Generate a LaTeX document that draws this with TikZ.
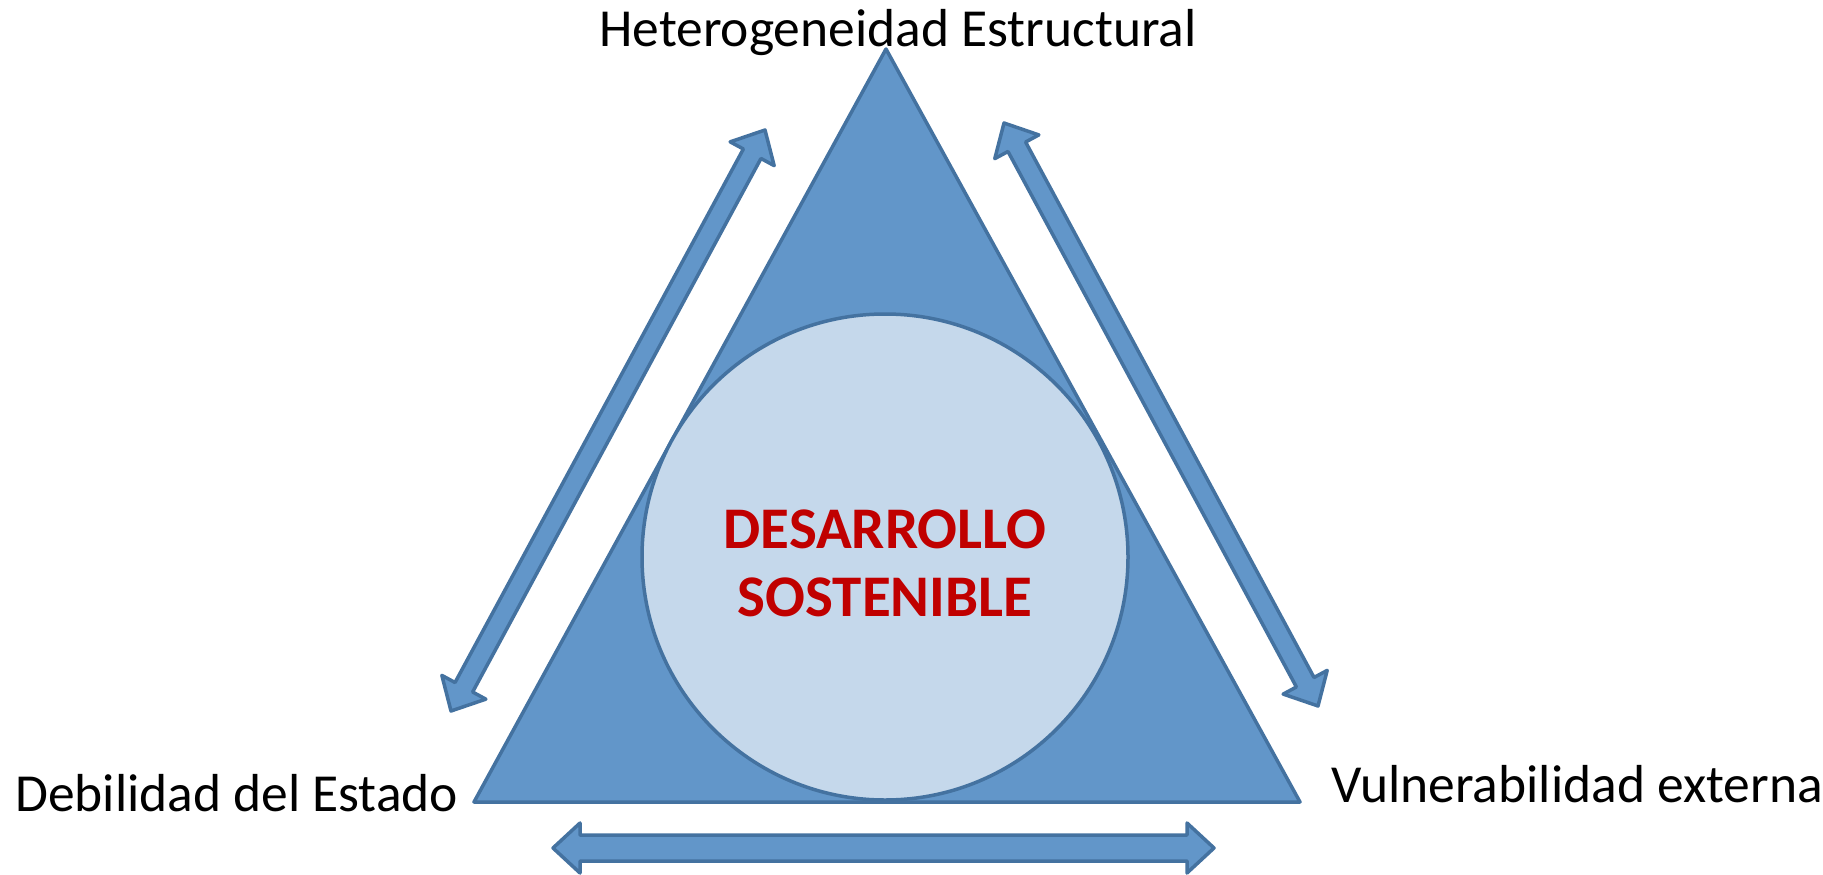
\documentclass[tikz,border=0pt]{standalone}
\usepackage{fontspec}
\setmainfont{Carlito}
\usepackage{tikz}
\usetikzlibrary{calc}
\definecolor{EdgeBlue}{RGB}{68,114,160}
\definecolor{FillBlue}{RGB}{98,150,201}
\definecolor{LightBlue}{RGB}{197,216,235}
\definecolor{DarkRed}{RGB}{192,0,0}

\tikzset{
  shapeline/.style={draw=EdgeBlue, line width=3.5pt, line join=round},
  label/.style={inner sep=0pt, font=\fontsize{53.5}{64}\selectfont, text=black},
  centretext/.style={inner sep=0pt, align=center, text=DarkRed,
    font=\fontsize{59}{68}\selectfont\bfseries},
}

% block arrow with a head at both ends: tip, tip, half shaft width
\newcommand{\dblarrow}[3]{%
  \draw[shapeline, fill=FillBlue] (#1)
    -- ($(#1)!27pt!(#2)!25pt!90:(#2)$)
    -- ($(#1)!27pt!(#2)!#3!90:(#2)$)
    -- ($(#2)!27pt!(#1)!#3!-90:(#1)$)
    -- ($(#2)!27pt!(#1)!25pt!-90:(#1)$)
    -- (#2)
    -- ($(#2)!27pt!(#1)!25pt!90:(#1)$)
    -- ($(#2)!27pt!(#1)!#3!90:(#1)$)
    -- ($(#1)!27pt!(#2)!#3!-90:(#2)$)
    -- ($(#1)!27pt!(#2)!25pt!-90:(#2)$)
    -- cycle;}

\begin{document}
\begin{tikzpicture}[x=1pt, y=-1pt]
    \useasboundingbox (0,0) rectangle (1823,875);

    % triangle and circle
    \coordinate (top) at (886,49);
    \coordinate (left) at (474,802);
    \coordinate (right) at (1300,802);
    \draw[shapeline, fill=FillBlue] (top) -- (left) -- (right) -- cycle;
    \draw[shapeline, fill=LightBlue] (885,557) circle (243);

    \node[centretext] (desarrollo) at (885,563) {DESARROLLO\\SOSTENIBLE};

    % labels
    \node[label, anchor=base] (hetero) at (898,47) {Heterogeneidad Estructural};
    \node[label, anchor=base west] (debil) at (15,811) {Debilidad del Estado};
    \node[label, anchor=base west] (vuln) at (1331,802) {Vulnerabilidad externa};

    % arrow tips
    \coordinate (a1) at (451,711);
    \coordinate (a2) at (765,130);
    \coordinate (b1) at (1004,123);
    \coordinate (b2) at (1318,706);
    \coordinate (c1) at (553,848);
    \coordinate (c2) at (1214,848);

    \dblarrow{a1}{a2}{10pt}
    \dblarrow{b1}{b2}{10pt}
    \dblarrow{c1}{c2}{13pt}

\end{tikzpicture}
\end{document}
